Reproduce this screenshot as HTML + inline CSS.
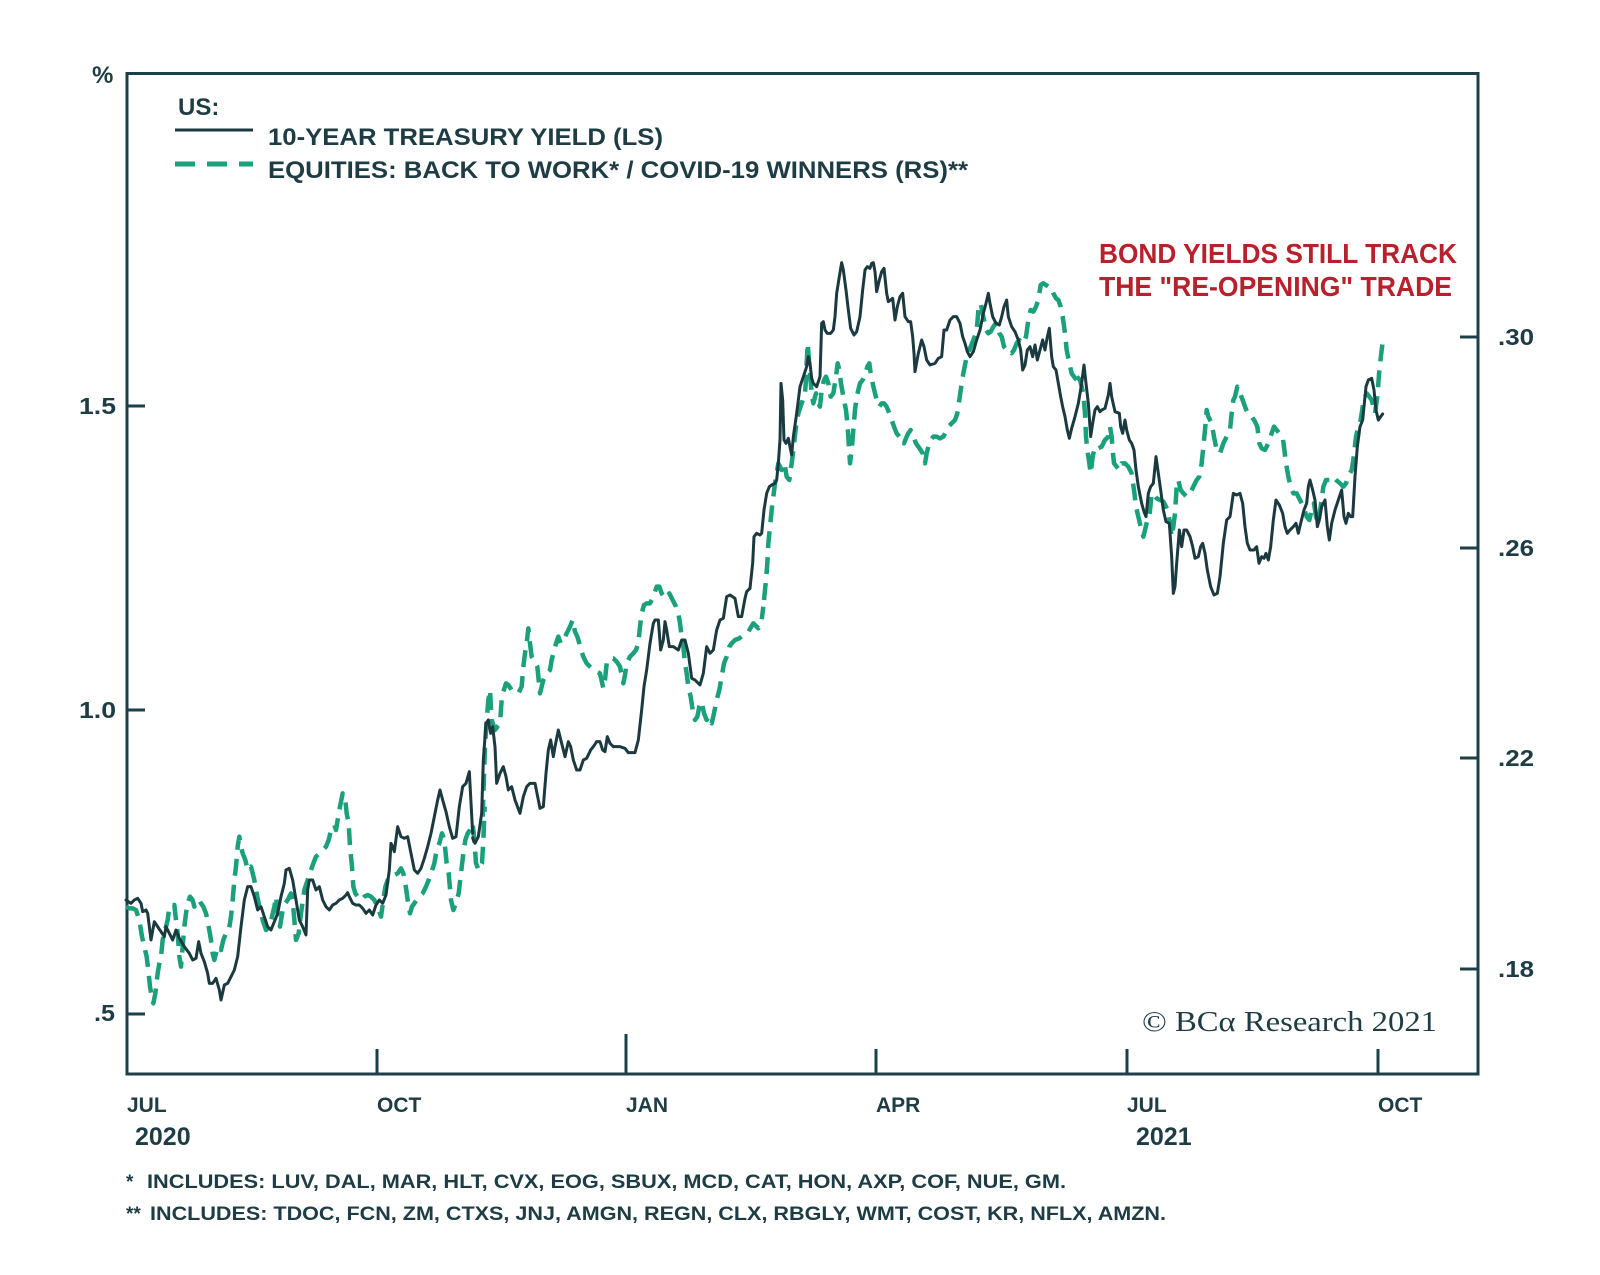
<!DOCTYPE html>
<html>
<head>
<meta charset="utf-8">
<style>
  html,body{margin:0;padding:0;background:#ffffff;}
  svg{display:block;}
  .lab{font-family:"Liberation Sans",Arial,sans-serif;font-weight:bold;fill:#1e3c44;}
</style>
</head>
<body>
<svg width="1600" height="1275" viewBox="0 0 1600 1275" xmlns="http://www.w3.org/2000/svg">
  <rect x="0" y="0" width="1600" height="1275" fill="#ffffff"/>

  <!-- frame -->
  <path d="M127,73.5 L1478,73.5 L1478,1074 L127,1074 Z" fill="none" stroke="#1d4048" stroke-width="3"/>
  <!-- left ticks -->
  <path d="M127,406 H145 M127,710 H145 M127,1014 H145" stroke="#1d4048" stroke-width="3"/>
  <!-- right ticks -->
  <path d="M1460,337 H1478 M1460,548 H1478 M1460,758 H1478 M1460,969 H1478" stroke="#1d4048" stroke-width="3"/>
  <!-- bottom ticks -->
  <path d="M377,1049 V1074 M876,1049 V1074 M1127,1049 V1074 M1378,1049 V1074 M626,1034 V1074" stroke="#1d4048" stroke-width="3"/>

  <!-- axis labels -->
  <text class="lab" x="92" y="83" font-size="24">%</text>
  <text class="lab" x="116" y="414" font-size="23" text-anchor="end" textLength="37" lengthAdjust="spacingAndGlyphs">1.5</text>
  <text class="lab" x="116" y="718" font-size="23" text-anchor="end" textLength="37" lengthAdjust="spacingAndGlyphs">1.0</text>
  <text class="lab" x="115" y="1021" font-size="23" text-anchor="end" textLength="21" lengthAdjust="spacingAndGlyphs">.5</text>

  <text class="lab" x="1498" y="345" font-size="23" textLength="36" lengthAdjust="spacingAndGlyphs">.30</text>
  <text class="lab" x="1498" y="556" font-size="23" textLength="36" lengthAdjust="spacingAndGlyphs">.26</text>
  <text class="lab" x="1498" y="766" font-size="23" textLength="36" lengthAdjust="spacingAndGlyphs">.22</text>
  <text class="lab" x="1498" y="977" font-size="23" textLength="36" lengthAdjust="spacingAndGlyphs">.18</text>

  <text class="lab" x="127" y="1112" font-size="21">JUL</text>
  <text class="lab" x="377" y="1112" font-size="21">OCT</text>
  <text class="lab" x="626" y="1112" font-size="21">JAN</text>
  <text class="lab" x="876" y="1112" font-size="21">APR</text>
  <text class="lab" x="1127" y="1112" font-size="21">JUL</text>
  <text class="lab" x="1378" y="1112" font-size="21">OCT</text>
  <text class="lab" x="135" y="1145" font-size="25">2020</text>
  <text class="lab" x="1136" y="1145" font-size="25">2021</text>

  <!-- footnotes -->
  <text class="lab" x="126" y="1188" font-size="19">*</text>
  <text class="lab" x="147" y="1188" font-size="19" textLength="919" lengthAdjust="spacingAndGlyphs">INCLUDES: LUV, DAL, MAR, HLT, CVX, EOG, SBUX, MCD, CAT, HON, AXP, COF, NUE, GM.</text>
  <text class="lab" x="126" y="1220" font-size="19">**</text>
  <text class="lab" x="150" y="1220" font-size="19" textLength="1016" lengthAdjust="spacingAndGlyphs">INCLUDES: TDOC, FCN, ZM, CTXS, JNJ, AMGN, REGN, CLX, RBGLY, WMT, COST, KR, NFLX, AMZN.</text>

  <!-- legend -->
  <text class="lab" x="178" y="115" font-size="24">US:</text>
  <line x1="175" y1="130" x2="253" y2="130" stroke="#1a3a40" stroke-width="3"/>
  <line x1="175" y1="164" x2="253" y2="164" stroke="#1aa07a" stroke-width="5" stroke-dasharray="20 12"/>
  <text class="lab" x="268" y="145" font-size="24" textLength="395" lengthAdjust="spacingAndGlyphs">10-YEAR TREASURY YIELD (LS)</text>
  <text class="lab" x="268" y="178" font-size="24" textLength="700" lengthAdjust="spacingAndGlyphs">EQUITIES: BACK TO WORK* / COVID-19 WINNERS (RS)**</text>

  <!-- annotation -->
  <text x="1099" y="263" font-family="Liberation Sans, Arial, sans-serif" font-weight="bold" font-size="28" fill="#b8202b" textLength="358" lengthAdjust="spacingAndGlyphs">BOND YIELDS STILL TRACK</text>
  <text x="1099" y="296" font-family="Liberation Sans, Arial, sans-serif" font-weight="bold" font-size="28" fill="#b8202b" textLength="353" lengthAdjust="spacingAndGlyphs">THE "RE-OPENING" TRADE</text>

  <!-- copyright -->
  <text x="1142" y="1031" font-family="Liberation Serif, serif" font-size="28" fill="#1e3c44" textLength="295" lengthAdjust="spacingAndGlyphs">© BCα Research 2021</text>

  <!-- DASHED SERIES (equities ratio, RS) -->
  <g fill="none" stroke="#1aa07a" stroke-width="13.5" stroke-dasharray="51 27" stroke-linejoin="round">
    <g transform="translate(126,740) scale(0.33333)">
      <polyline points="0,500 10,505 20,505 30,510 40,540 48,590 55,620 62,650 68,700 72,740 78,775 82,790 88,760 95,700 100,670 105,650 110,600 115,580 120,560 125,540 130,500 135,495 145,495 150,540 155,580 160,650 165,680 170,620 175,560 180,520 185,490 192,470 200,480 205,500 210,490 220,480 225,490 232,500 240,520 248,560 255,600 260,640 265,660 270,640 275,620 285,630 292,600 300,580 308,575 315,530 320,480 325,420 330,380 335,320 340,290 345,320 350,340 358,360 365,390 375,380 385,420 392,460 400,500 410,540 420,570 430,560 438,530 445,500 450,470 455,520 462,560 470,510 478,490 485,480 490,470 495,460 500,480 505,540 510,600 518,580 525,520 535,450 545,420 555,390 562,370 570,350 580,340 590,330 600,320 608,300 615,270 625,255 630,270 635,240 642,200 650,160 658,180 662,220 668,250 672,320 678,380 682,440 688,460 695,470 705,480 715,470 725,465 735,470 745,480 755,500 765,530 772,480 778,440 785,420 795,410 805,405 815,400 825,385 832,400 838,430 845,480 852,520 858,500 865,490 872,480 880,470 890,460 900,440 908,420 915,400 925,370 932,330 940,310 948,280 955,300 962,370 968,400 975,480 982,510 990,490 998,460 1005,400 1012,340 1018,300 1025,280 1032,270 1040,250 1045,300 1050,370 1058,390 1068,370 1072,300 1076,200"/>
    </g>
    <g transform="translate(420,560) scale(0.33333)">
      <polyline points="188,770 192,650 195,560 200,480 205,420 210,390 215,480 225,510 232,500 240,490 245,420 250,395 258,370 265,375 275,390 285,395 295,400 305,380 310,320 315,280 320,250 325,205 330,250 335,290 345,305 352,320 360,400 365,380 370,360 380,340 390,330 395,300 400,280 408,250 415,230 422,250 428,245 440,220 450,200 458,180 465,215 472,230 478,250 485,275 490,290 500,310 510,320 520,330 530,335 540,340 550,385 555,360 560,310 570,295 580,295 590,305 600,320 610,370 615,345 620,310 630,290 640,280 648,270 655,250 660,200 665,160 672,135 680,130 690,130 700,110 710,80 718,80 725,100 732,110 740,115 748,100 758,120 768,140 775,160 780,190 785,230 790,260 795,310 800,340 805,380 812,410 818,450 825,480 832,470 838,440 845,425 852,460 860,480 868,470 875,490 882,460 890,420 898,390 905,350 912,310 920,290 928,260 935,250 945,240 958,235 970,225 985,215 1000,190 1015,205 1025,180 1030,140"/>
    </g>
    <g transform="translate(740,250) scale(0.33333)">
      <polyline points="72,1050 78,990 82,940 85,880 90,830 95,780 100,740 105,700 110,670 115,640 120,650 125,660 130,640 135,650 140,680 148,690 152,660 155,640 160,600 168,530 175,490 185,460 195,430 198,390 200,340 203,280 206,320 210,370 215,430 220,460 228,430 235,460 240,470 245,420 252,390 258,380 265,400 272,440 280,430 288,380 293,340 298,360 303,400 310,440 318,480 322,520 325,560 330,640 335,600 340,540 345,480 350,440 355,420 360,400 368,390 375,375 382,350 388,340 392,370 398,400 405,430 410,450 418,470 425,460 432,460 440,470 448,490 455,510 462,530 470,550 478,560 485,560 492,580 500,560 505,550 512,540 520,560 528,580 535,590 542,600 548,610 555,640 560,610 565,590 572,570 580,560 590,560 600,565 610,560 618,545 625,530 635,520 645,510 652,490 658,450 665,400 670,370 678,330 685,310 692,290 700,270 708,250 712,220 716,170 722,160 730,200 738,240 745,250 752,245 760,230 768,220 778,250 785,260 792,290 800,300 808,300 815,310 822,300 830,280 838,270 845,280 852,275 858,260 865,210 872,180 880,185 888,170 895,150 902,105 910,100 918,105 925,110 932,110 940,130 948,145 955,150 962,170 968,200 975,250 980,300 988,340 995,370 1002,380 1010,390"/>
    </g>
    <g transform="translate(1060,330) scale(0.33333)">
      <polyline points="50,140 60,150 70,190 75,250 78,320 82,360 88,400 92,430 98,380 105,350 115,355 125,350 135,330 145,320 150,290 155,320 158,360 162,400 170,410 178,420 185,400 195,400 205,410 215,430 222,480 228,530 235,560 242,590 250,620 255,600 262,570 268,560 275,490 282,495 290,505 300,510 310,515 318,530 325,550 330,580 335,620 340,590 345,550 350,470 355,450 362,480 370,490 380,500 390,490 400,470 410,450 418,440 425,400 430,350 435,300 440,240 445,260 455,280 462,320 470,360 480,370 490,340 500,320 510,300 515,250 520,210 525,200 532,170 540,190 548,210 555,230 565,255 575,260 585,275 592,290 598,340 605,355 615,360 625,340 635,310 642,290 650,300 658,310 668,320 672,350 678,400 685,440 692,470 700,490 710,490 720,510 730,530 740,560 748,570 755,540 762,520 768,560 775,580 782,530 790,470 798,450 808,450 818,440 828,450 840,460 850,470 858,460 865,440 870,430 875,420 880,390 888,320 895,290 902,270 908,230 915,200 920,190 928,200 935,210 940,230 945,250 952,200 958,120 965,60 968,35"/>
    </g>
  </g>

  <!-- SOLID SERIES (10-year yield, LS) -->
  <g fill="none" stroke="#1a3a40" stroke-width="9" stroke-linejoin="round" stroke-linecap="round">
    <g transform="translate(126,740) scale(0.33333)">
      <polyline points="0,480 15,490 25,480 35,475 45,490 50,515 60,510 65,520 75,600 85,545 95,560 105,575 115,590 120,560 130,580 140,600 150,570 160,595 175,620 190,640 200,660 210,655 218,605 225,640 235,665 245,700 250,730 260,730 270,715 280,750 285,780 295,735 305,730 315,710 325,690 335,650 345,560 355,480 365,440 375,440 385,470 395,510 405,500 415,530 425,560 435,570 445,545 455,520 465,470 475,430 480,390 490,385 500,420 510,480 520,540 530,560 540,585 545,450 550,420 560,420 570,450 580,440 590,480 600,500 610,510 620,495 630,490 640,480 650,475 660,465 665,458 670,470 680,490 690,495 700,495 710,505 720,520 730,510 740,525 750,495 760,480 770,490 780,465 790,390 795,310 800,320 805,335 815,260 825,290 835,295 845,290 855,340 865,390 875,400 885,385 895,355 905,320 915,280 925,230 935,180 942,150 950,180 960,215 970,260 980,295 990,290 1000,200 1010,140 1020,130 1030,95 1040,280"/>
    </g>
    <g transform="translate(420,560) scale(0.33333)">
      <polyline points="158,833 160,840 165,850 175,830 185,760 190,600 198,490 205,480 212,520 218,500 225,560 230,670 240,640 250,620 258,650 265,690 275,680 285,720 300,760 310,710 320,680 330,670 345,670 355,720 360,745 370,740 378,640 385,570 392,540 400,590 405,560 415,510 425,550 435,590 445,545 452,560 460,600 470,630 480,630 490,600 500,595 512,570 520,560 530,545 540,545 548,570 555,575 562,530 570,550 580,560 600,560 615,565 625,578 645,578 655,540 665,450 672,380 680,330 690,250 700,190 705,180 715,180 722,270 730,240 735,185 740,210 748,260 760,260 775,270 785,240 795,240 805,280 815,355 825,360 835,370 840,375 850,340 860,260 870,280 880,270 890,210 900,180 910,175 920,110 930,105 945,115 955,170 965,170 975,115 980,95 990,85"/>
    </g>
    <g transform="translate(740,250) scale(0.33333)">
      <polyline points="30,1015 38,940 42,860 50,850 60,855 65,850 72,780 80,730 88,710 95,705 105,700 110,690 115,640 120,570 123,400 128,450 132,570 138,580 145,565 150,590 155,615 160,560 170,490 180,410 190,380 200,350 205,320 210,340 215,385 220,400 230,410 240,380 245,220 250,215 255,240 262,250 272,250 280,240 285,200 290,130 298,80 305,38 310,60 318,120 325,180 332,235 342,255 350,245 360,200 368,120 375,60 382,50 390,55 395,40 400,38 405,65 410,125 418,90 425,65 432,55 440,130 445,155 452,150 458,145 465,210 472,170 480,140 488,130 495,200 505,215 512,215 518,260 522,310 525,365 535,310 545,270 552,290 560,330 570,345 585,340 595,325 605,320 612,240 620,240 630,210 640,200 650,200 660,220 668,260 675,280 682,305 690,320 700,305 710,270 720,240 730,190 738,160 745,130 750,160 758,200 768,220 778,225 785,200 792,170 800,150 805,200 815,230 825,245 835,270 842,300 848,360 855,345 862,300 870,290 878,320 885,285 892,330 900,300 908,270 915,300 922,260 928,235 935,320 940,350 948,360 955,400 962,440 968,470 975,500 982,540 988,565 995,535 1005,500 1015,460 1025,400 1032,345 1038,400 1045,460 1052,560 1058,520 1065,480 1072,470 1080,485"/>
    </g>
    <g transform="translate(1060,330) scale(0.33333)">
      <polyline points="120,245 125,240 135,235 145,195 150,160 155,200 165,245 178,250 182,290 188,310 195,270 200,300 208,330 215,340 222,360 228,420 235,470 245,520 252,545 258,560 265,490 272,470 280,460 288,380 295,430 302,480 310,540 318,575 328,580 335,680 340,790 345,770 350,700 358,600 365,650 372,600 380,600 390,620 398,650 405,685 415,680 422,650 428,640 435,670 442,720 452,770 462,795 472,790 480,740 490,640 500,570 510,560 520,490 530,495 540,490 548,520 555,590 562,640 570,660 582,660 590,650 597,700 605,680 612,685 618,670 625,690 632,650 640,570 648,510 658,525 668,550 675,590 682,610 690,600 700,590 708,580 715,610 722,580 732,540 740,520 745,470 750,450 758,480 765,510 772,590 778,570 785,530 795,510 802,590 808,630 815,580 825,540 835,510 845,480 852,560 858,580 865,550 872,560 878,560 885,440 892,350 900,290 908,270 918,170 925,150 935,145 942,180 948,240 955,270 962,260 968,252"/>
    </g>
  </g>
</svg>
</body>
</html>
